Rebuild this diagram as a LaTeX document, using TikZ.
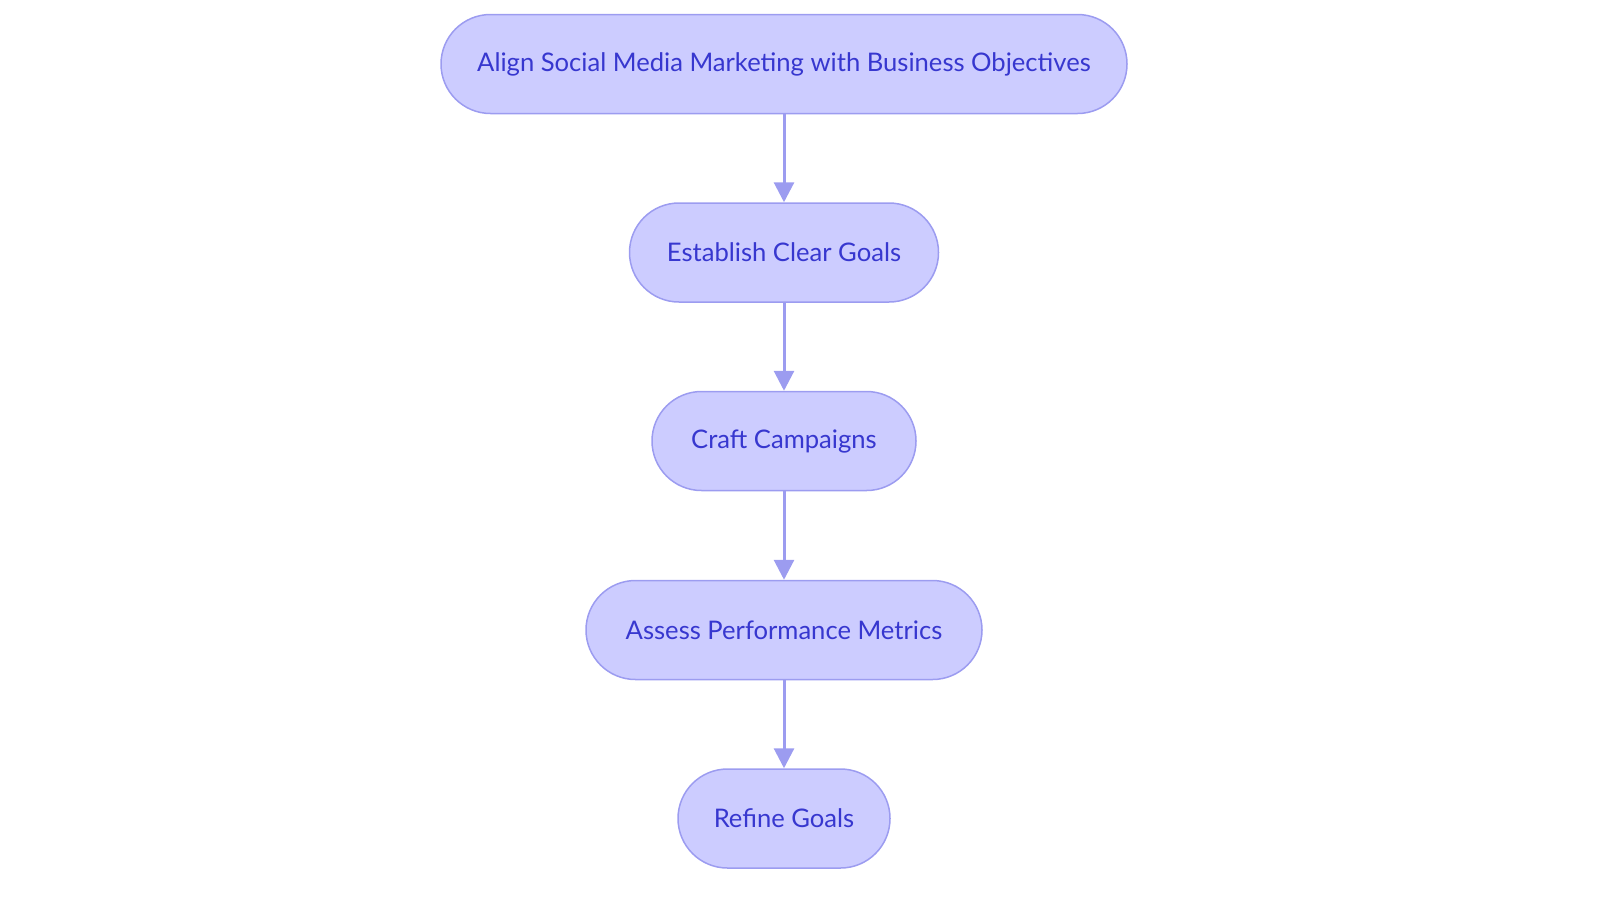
\documentclass[tikz,border=0pt]{standalone}
\usepackage{fontspec}
\setmainfont{Lato}
\usetikzlibrary{arrows.meta}
\definecolor{nfill}{HTML}{CCCCFF}
\definecolor{nline}{HTML}{9C9CF0}
\definecolor{ntext}{HTML}{3737CF}
\begin{document}
\begin{tikzpicture}[x=1pt,y=-1pt,
 box/.style={draw=nline,line width=1.5pt,fill=nfill,rounded corners=49.5pt,minimum height=99pt,inner sep=0pt,text=ntext,font=\fontsize{25.6}{30}\selectfont},
 arr/.style={draw=nline,line width=3pt,-{Triangle[length=20pt,width=20pt]}}]
\useasboundingbox (0,0) rectangle (1600,903);
\node[box,minimum width=686pt] (a) at (784,64) {Align Social Media Marketing with Business Objectives};
\node[box,minimum width=309pt] (b) at (784,252.5) {Establish Clear Goals};
\node[box,minimum width=264pt] (c) at (784,441) {Craft Campaigns};
\node[box,minimum width=396pt] (d) at (784,630) {Assess Performance Metrics};
\node[box,minimum width=212pt] (e) at (784,818.5) {Refine Goals};
\draw[arr] (a) -- (b);
\draw[arr] (b) -- (c);
\draw[arr] (c) -- (d);
\draw[arr] (d) -- (e);
\end{tikzpicture}
\end{document}
